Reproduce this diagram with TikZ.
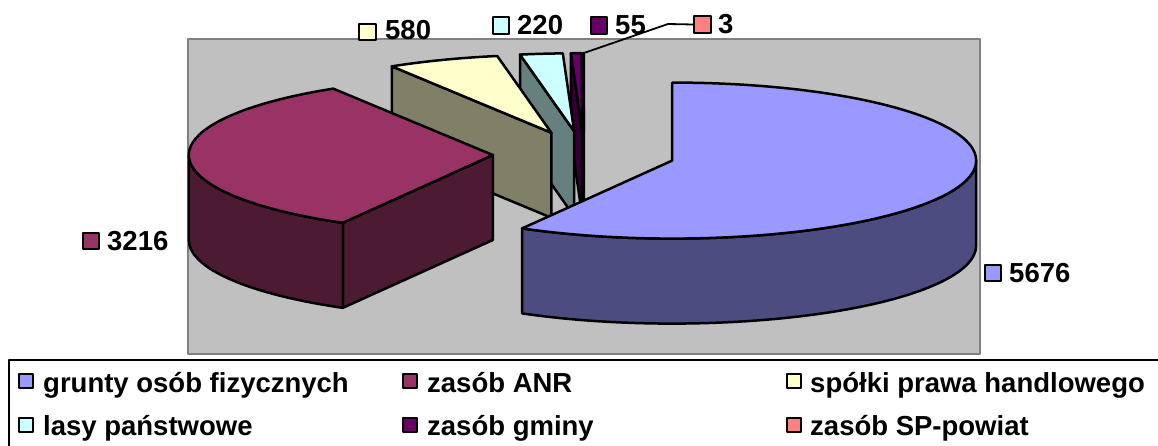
\documentclass[tikz,border=0pt]{standalone}
\usepackage{fontspec}
\setmainfont{Liberation Sans}
\usetikzlibrary{calc}
\definecolor{plotgray}{HTML}{C0C0C0}
\definecolor{plotborder}{HTML}{808080}
\definecolor{blueT}{HTML}{9999FF}
\definecolor{blueS}{HTML}{4C4C80}
\definecolor{maroonT}{HTML}{993366}
\definecolor{maroonS}{HTML}{4C1A33}
\definecolor{yellowT}{HTML}{FFFFCC}
\definecolor{yellowS}{HTML}{808066}
\definecolor{cyanT}{HTML}{CCFFFF}
\definecolor{cyanS}{HTML}{668080}
\definecolor{purpleT}{HTML}{660066}
\definecolor{purpleS}{HTML}{330033}
\definecolor{pinkT}{HTML}{FF8080}
\definecolor{pinkS}{HTML}{804040}
\newcommand\slicecoords[3]{%
  \pgfmathsetmacro\slMid{(#2+#3)/2}%
  \pgfmathsetmacro\slX{584+91.2*cos(\slMid)}%
  \pgfmathsetmacro\slY{-154.6+23.4*sin(\slMid)}%
  \coordinate (#1c) at (\slX,\slY);
  \coordinate (#1s) at ($(#1c)+({304*cos(#2)},{78*sin(#2)})$);
  \coordinate (#1e) at ($(#1c)+({304*cos(#3)},{78*sin(#3)})$);
}
\newcommand\startwall[2]{%
  \draw[edge, fill=#2] (#1c) -- (#1s) -- ++(0,-85) -- ($(#1c)+(0,-85)$) -- cycle;
}
\newcommand\topface[4]{%
  \draw[edge, fill=#4] (#1c) -- (#1s) arc[start angle=#2, end angle=#3, x radius=304pt, y radius=78pt] -- cycle;
}
\begin{document}
\begin{tikzpicture}[x=1pt,y=1pt,line join=round,
  edge/.style={draw=black, line width=2.5pt},
  sw/.style={draw=black, line width=2.2pt, minimum size=16.5pt, inner sep=0pt},
  lsw/.style={draw=black, line width=2pt, minimum size=14pt, inner sep=0pt},
  lbl/.style={font=\bfseries\fontsize{27.5}{30}\selectfont, inner sep=0pt, anchor=base west}]
\useasboundingbox (0,0) rectangle (1158,-446);
\fill[white] (0,0) rectangle (1158,-446);
% plot area
\draw[fill=plotgray, draw=plotborder, line width=2.7pt] (188,-39) rectangle (980,-354);
% slice geometry
\slicecoords{b}{90}{-119.58}
\slicecoords{m}{240.42}{121.67}
\slicecoords{y}{121.67}{100.26}
\slicecoords{k}{100.26}{92.14}
\slicecoords{p}{92.14}{90.11}
\slicecoords{r}{90.11}{90}
% back slices
\startwall{r}{pinkS}
\topface{r}{90.11}{90}{pinkT}
\startwall{p}{purpleS}
\topface{p}{92.14}{90.11}{purpleT}
\startwall{k}{cyanS}
\topface{k}{100.26}{92.14}{cyanT}
\startwall{y}{yellowS}
\topface{y}{121.67}{100.26}{yellowT}
% maroon
\startwall{m}{maroonS}
\draw[edge, fill=maroonS] ($(mc)+(-304,0)$) arc[start angle=180, end angle=240.42, x radius=304pt, y radius=78pt] -- ++(0,-85) arc[start angle=240.42, end angle=180, x radius=304pt, y radius=78pt] -- cycle;
\topface{m}{240.42}{121.67}{maroonT}
% blue
\draw[edge, fill=blueS] ($(bc)+(304,0)$) arc[start angle=0, end angle=-119.58, x radius=304pt, y radius=78pt] -- ++(0,-85) arc[start angle=-119.58, end angle=0, x radius=304pt, y radius=78pt] -- cycle;
\topface{b}{90}{-119.58}{blueT}
% data labels
\node[sw, fill=maroonT] (sw3216) at (91,-241) {};
\node[lbl] (l3216) at (107,-250.5) {3216};
\node[sw, fill=blueT] (sw5676) at (993,-273) {};
\node[lbl] (l5676) at (1009,-282) {5676};
\node[sw, fill=yellowT] (sw580) at (367.5,-32) {};
\node[lbl] (l580) at (385,-40) {580};
\node[sw, fill=cyanT] (sw220) at (501,-25.5) {};
\node[lbl] (l220) at (517,-35) {220};
\node[sw, fill=purpleT] (sw55) at (599,-25.5) {};
\node[lbl] (l55) at (615,-35) {55};
\node[sw, fill=pinkT] (sw3) at (702.5,-24.5) {};
\node[lbl] (l3) at (718,-34) {3};
\coordinate (kink) at (668,-24);
\draw[line width=1.8pt] (rs) -- (kink) -- (sw3.west);
% legend
\draw[line width=2pt] (1170,-360) -- (9,-360) -- (9,-460);
\node[lsw, fill=blueT] (g1) at (25.5,-380.5) {};
\node[lbl] (t1) at (43,-392) {grunty osób fizycznych};
\node[lsw, fill=maroonT] (g2) at (410,-380.5) {};
\node[lbl] (t2) at (427,-392) {zasób ANR};
\node[lsw, fill=yellowT] (g3) at (793.5,-380.5) {};
\node[lbl] (t3) at (810,-392) {spółki prawa handlowego};
\node[lsw, fill=cyanT] (g4) at (25.5,-424.5) {};
\node[lbl] (t4) at (43,-435) {lasy państwowe};
\node[lsw, fill=purpleT] (g5) at (410,-424.5) {};
\node[lbl] (t5) at (427,-435) {zasób gminy};
\node[lsw, fill=pinkT] (g6) at (793.5,-424.5) {};
\node[lbl] (t6) at (810,-435) {zasób SP-powiat};
\end{tikzpicture}
\end{document}
